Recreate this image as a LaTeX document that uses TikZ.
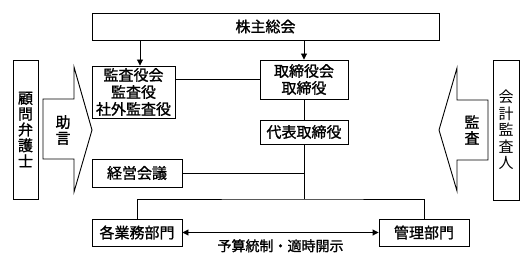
\documentclass[tikz,border=0pt]{standalone}
\usepackage{fontspec}
\setmainfont{Noto Sans CJK JP}[AutoFakeBold=1.2]
\usetikzlibrary{arrows.meta}

\tikzset{
  box/.style={draw, line width=0.9pt, inner sep=0pt, align=center,
    font=\fontsize{15}{17}\selectfont\bfseries},
  vbox/.style={box, font=\fontsize{15}{15.8}\selectfont\bfseries},
  link/.style={line width=0.9pt},
  arr/.style={link, -{Triangle[length=6pt,width=6pt]}},
  blockarrow/.style={draw, line width=0.9pt, fill=white},
}

\begin{document}
\begin{tikzpicture}[x=1pt, y=-1pt]
    \useasboundingbox (0,0) rectangle (530,270);

    % Shareholders meeting
    \node[box, minimum width=347pt, minimum height=27pt] (agm) at (265.5,26.5) {株主総会};

    % Auditors and board
    \node[box, minimum width=83pt, minimum height=52pt] (audit) at (133.5,92) {監査役会\\監査役\\社外監査役};
    \node[box, minimum width=88pt, minimum height=39pt] (board) at (304,79.5) {取締役会\\取締役};
    \node[box, minimum width=88pt, minimum height=24pt] (ceo) at (304,132) {代表取締役};
    \node[box, minimum width=90pt, minimum height=28pt] (mgmt) at (137,173) {経営会議};

    % Departments
    \node[box, minimum width=90pt, minimum height=27pt] (ops) at (137,232.5) {各業務部門};
    \node[box, minimum width=90pt, minimum height=27pt] (admin) at (424,232.5) {管理部門};
    \coordinate (bus) at (304,199);

    % Outside parties
    \node[vbox, minimum width=25pt, minimum height=139pt] (lawyer) at (25.5,129.5) {顧\\問\\弁\\護\\士};
    \node[vbox, minimum width=26pt, minimum height=140pt, font=\fontsize{15}{16.6}\selectfont] (cpa) at (506,130) {会\\計\\監\\査\\人};

    % Block arrows
    \draw[blockarrow] (43,99) -- (74,99) -- (74,67) -- (92,130) -- (74,192) -- (74,159) -- (43,159) -- cycle;
    \node[font=\fontsize{15}{16}\selectfont\bfseries, align=center] (advice) at (63,130) {助\\言};
    \draw[blockarrow] (488,100) -- (457,100) -- (457,68) -- (439,130) -- (457,191) -- (457,160) -- (488,160) -- cycle;
    \node[font=\fontsize{15}{16}\selectfont\bfseries, align=center] (check) at (472,130) {監\\査};

    % Connectors
    \draw[arr] ([xshift=6.5pt]audit.north |- agm.south) -- ([xshift=6.5pt]audit.north);
    \draw[arr] (board.north |- agm.south) -- (board.north);
    \draw[link] (audit.east |- board.west) -- (board.west);
    \draw[link] (board.south) -- (ceo.north);
    \draw[link] (ceo.south) -- (bus);
    \draw[link] (mgmt.east) -- (mgmt.east -| bus);
    \draw[link] (ops.north) |- (bus) -| (admin.north);
    \draw[link, {Triangle[length=6pt,width=6pt]}-{Triangle[length=6pt,width=6pt]}] (ops.east) -- (admin.west)
        node[midway, below=3pt, font=\fontsize{14}{16}\selectfont\bfseries] (budget) {予算統制・適時開示};
\end{tikzpicture}
\end{document}
